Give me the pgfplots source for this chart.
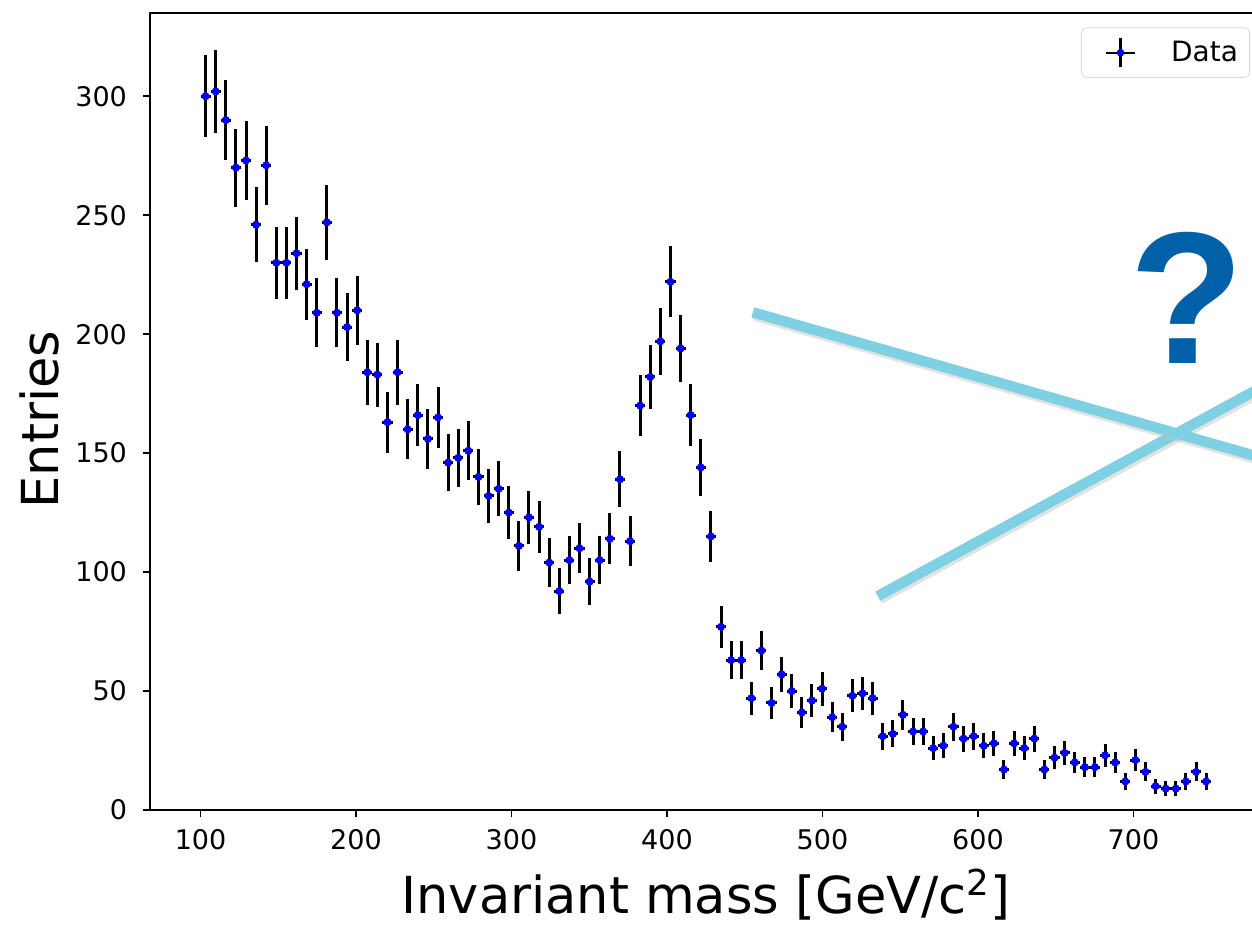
\documentclass[border=0pt]{standalone}
\usepackage{fontspec}
\setmainfont{DejaVu Sans}
\newfontfamily\qfont{Liberation Sans}
\usepackage{pgfplots}
\pgfplotsset{compat=1.18}
\usepackage{pgfplotstable}
\definecolor{mplblue}{RGB}{0,0,255}
\definecolor{crossblue}{HTML}{80D0E3}
\definecolor{qblue}{HTML}{0060A8}

% bin centre, entries, sqrt(entries)
\pgfplotstableread{
x y ey
103.25 300 17.3
109.75 302 17.4
116.25 290 17.0
122.75 270 16.4
129.25 273 16.5
135.75 246 15.7
142.25 271 16.5
148.75 230 15.2
155.25 230 15.2
161.75 234 15.3
168.25 221 14.9
174.75 209 14.5
181.25 247 15.7
187.75 209 14.5
194.25 203 14.2
200.75 210 14.5
207.25 184 13.6
213.75 183 13.5
220.25 163 12.8
226.75 184 13.6
233.25 160 12.6
239.75 166 12.9
246.25 156 12.5
252.75 165 12.8
259.25 146 12.1
265.75 148 12.2
272.25 151 12.3
278.75 140 11.8
285.25 132 11.5
291.75 135 11.6
298.25 125 11.2
304.75 111 10.5
311.25 123 11.1
317.75 119 10.9
324.25 104 10.2
330.75 92 9.6
337.25 105 10.2
343.75 110 10.5
350.25 96 9.8
356.75 105 10.2
363.25 114 10.7
369.75 139 11.8
376.25 113 10.6
382.75 170 13.0
389.25 182 13.5
395.75 197 14.0
402.25 222 14.9
408.75 194 13.9
415.25 166 12.9
421.75 144 12.0
428.25 115 10.7
434.75 77 8.8
441.25 63 7.9
447.75 63 7.9
454.25 47 6.9
460.75 67 8.2
467.25 45 6.7
473.75 57 7.5
480.25 50 7.1
486.75 41 6.4
493.25 46 6.8
499.75 51 7.1
506.25 39 6.2
512.75 35 5.9
519.25 48 6.9
525.75 49 7.0
532.25 47 6.9
538.75 31 5.6
545.25 32 5.7
551.75 40 6.3
558.25 33 5.7
564.75 33 5.7
571.25 26 5.1
577.75 27 5.2
584.25 35 5.9
590.75 30 5.5
597.25 31 5.6
603.75 27 5.2
610.25 28 5.3
616.75 17 4.1
623.25 28 5.3
629.75 26 5.1
636.25 30 5.5
642.75 17 4.1
649.25 22 4.7
655.75 24 4.9
662.25 20 4.5
668.75 18 4.2
675.25 18 4.2
681.75 23 4.8
688.25 20 4.5
694.75 12 3.5
701.25 21 4.6
707.75 16 4.0
714.25 10 3.2
720.75 9 3.0
727.25 9 3.0
733.75 12 3.5
740.25 16 4.0
746.75 12 3.5
}\massdata

\begin{document}
\begin{tikzpicture}
\path[use as bounding box] (-75pt,-57.5pt) rectangle (551pt,405pt);
\clip (-75pt,-57.5pt) rectangle (551pt,405pt);
\begin{axis}[
  scale only axis,
  width=555.85pt, height=398.5pt,
  xmin=67.5, xmax=782.5,
  ymin=0, ymax=335,
  xtick={100,200,...,700},
  ytick={0,50,...,300},
  tick pos=left,
  tick align=outside,
  major tick length=3.5pt,
  tick style={black, line width=0.8pt},
  axis line style={line width=0.8pt},
  /pgf/number format/assume math mode=true,
  ticklabel style={font=\fontsize{13.5}{16}\selectfont},
  yticklabel style={xshift=-4.5pt},
  xticklabel style={yshift=-2.5pt},
  xlabel={Invariant mass [GeV/c\textsuperscript{2}]},
  ylabel={Entries},
  label style={font=\fontsize{25.5}{30}\selectfont},
  xlabel style={at={(axis description cs:0.5,-0.1066)}, anchor=center},
  ylabel style={at={(axis description cs:-0.099,0.49)}, anchor=center},
  clip=false,
  legend style={at={(0.9895,0.982)}, anchor=north east,
    draw=gray!30, rounded corners=2.5pt, inner xsep=3.8pt, inner ysep=4.6pt,
    font=\fontsize{14}{16.5}\selectfont},
  legend cell align=left,
]

\addplot[only marks, mark=*, mark size=1.8pt, color=mplblue,
  legend image code/.code={
    \path[draw=none, fill=none] (0pt,-7.3pt) rectangle (39pt,7.3pt);
    \draw[black, line width=1.1pt] (8.4pt,0pt) -- (23pt,0pt);
    \draw[black, line width=1.1pt] (15.7pt,-7.3pt) -- (15.7pt,7.3pt);
    \fill[mplblue] (15.7pt,0pt) circle (1.7pt);
  },
  error bars/.cd, x dir=both, x fixed=3.25, y dir=both, y explicit,
  error mark=none, error bar style={black, line width=1.5pt}]
  table[x=x, y=y, y error=ey] {\massdata};
\addlegendentry{Data}

% ---- overlaid annotation: crossed strokes and question mark ----
\draw[gray!50, opacity=0.45, line width=5.4pt]
  ([xshift=0.8pt,yshift=-1.5pt]axis cs:535.6,89.9) -- ([xshift=0.8pt,yshift=-1.5pt]axis cs:800,184.0);
\draw[crossblue, line width=5.2pt] (axis cs:535.6,89.9) -- (axis cs:800,184.0);
\draw[gray!50, opacity=0.45, line width=5.4pt]
  ([xshift=0.8pt,yshift=-1.5pt]axis cs:455.2,209.2) -- ([xshift=0.8pt,yshift=-1.5pt]axis cs:800,144.8);
\draw[crossblue, line width=5.2pt] (axis cs:455.2,209.2) -- (axis cs:800,144.8);
\node[anchor=base, inner sep=0pt, text=qblue, font=\qfont\bfseries\fontsize{94}{94}\selectfont]
  at (axis cs:734.5,187.8) {?};
\end{axis}
\end{tikzpicture}
\end{document}
